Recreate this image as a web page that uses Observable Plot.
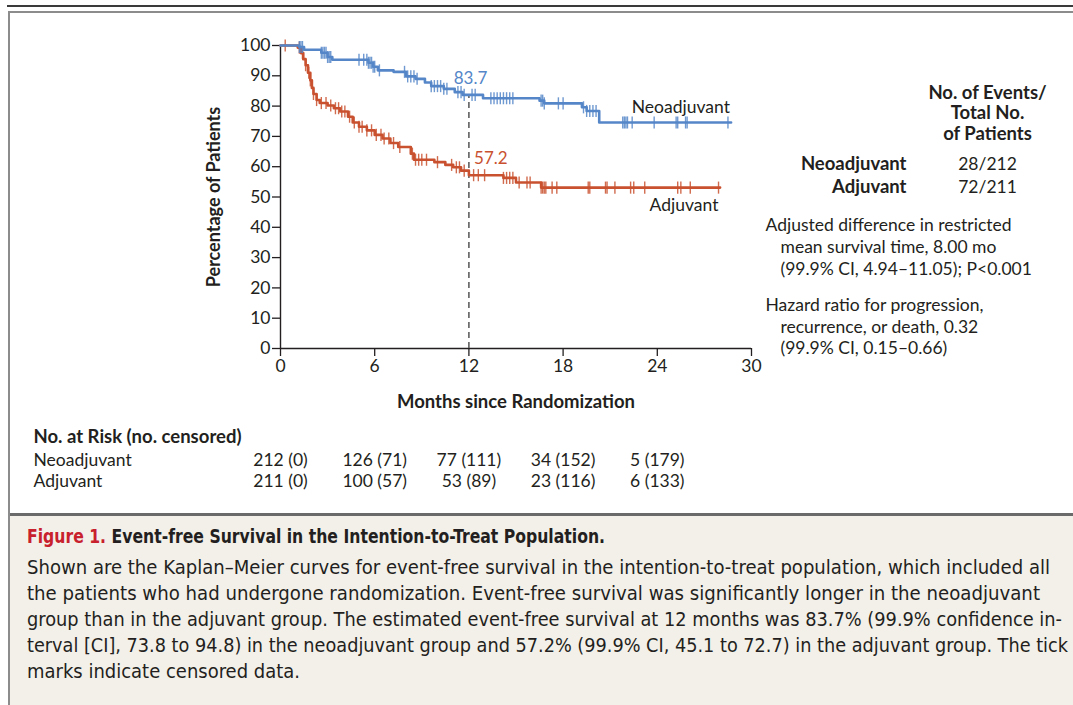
<!DOCTYPE html>
<html>
<head>
<meta charset="utf-8">
<script src="https://cdn.jsdelivr.net/npm/d3@7"></script>
<script src="https://cdn.jsdelivr.net/npm/@observablehq/plot@0.6"></script>
<style>
  html, body { margin: 0; padding: 0; }
  body { width: 1073px; height: 705px; position: relative; overflow: hidden; background: #fff; font-family: Lato, "Open Sans", sans-serif; color: #231f20; }
  #rule { position: absolute; left: 7px; right: 0; top: 5px; height: 2px; background: #3a3a3a; }
  #frame { position: absolute; left: 8px; right: -4px; top: 11px; bottom: -4px; border-top: 2px solid #8c8c8c; border-left: 2px solid #8c8c8c; }
  #capbg { position: absolute; left: 10px; right: 0; top: 513px; bottom: 0; background: #f3f0ea; border-top: 3px solid #6a6a6a; }
  #chart { position: absolute; left: 0; top: 0; }
  .cap { position: absolute; left: 27px; white-space: nowrap; line-height: 26px; font-family: "Liberation Sans Narrow", "DejaVu Sans Condensed", Lato, sans-serif; font-size: 19.5px; transform-origin: 0 50%; color: #231f20; }
  .cap.title { font-weight: bold; }
  .cap .fig { color: #c8202c; }
</style>
</head>
<body>
<div id="rule"></div>
<div id="frame"></div>
<div id="capbg"></div>
<div id="chart"></div>
<div class="cap title" id="capTitle" data-w="578" style="top:524px"><span class="fig">Figure 1.</span> Event-free Survival in the Intention-to-Treat Population.</div>
<div class="cap body" data-w="1023" style="top:555px">Shown are the Kaplan–Meier curves for event-free survival in the intention-to-treat population, which included all</div>
<div class="cap body" data-w="1013" style="top:581px">the patients who had undergone randomization. Event-free survival was significantly longer in the neoadjuvant</div>
<div class="cap body" data-w="1035" style="top:607px">group than in the adjuvant group. The estimated event-free survival at 12 months was 83.7% (99.9% confidence in-</div>
<div class="cap body" data-w="1041" style="top:633px">terval [CI], 73.8 to 94.8) in the neoadjuvant group and 57.2% (99.9% CI, 45.1 to 72.7) in the adjuvant group. The tick</div>
<div class="cap body" data-w="273" style="top:659px">marks indicate censored data.</div>
<script>
// ---------- data ----------
const monthTicks = [0, 6, 12, 18, 24, 30];
const pctTicks = [0, 10, 20, 30, 40, 50, 60, 70, 80, 90, 100];

// Neoadjuvant: event times (months) and survival (%) after each step
const neoTimes = [0, 1.2, 1.5, 2.6, 3.0, 3.3, 5.6, 5.9, 6.2, 7.2, 8.0, 8.6, 9.2, 9.6, 10.4, 11.1, 11.6, 12.9, 16.5, 16.8, 19.2, 19.5, 20.3];
const neoSurv  = [100, 99.5, 98.6, 97.6, 96.2, 95.3, 94.3, 93.0, 91.8, 91.3, 89.8, 89.0, 87.8, 86.6, 85.7, 84.6, 83.7, 82.6, 81.8, 80.9, 79.6, 78.4, 74.6];
const neoEnd = 28.7;
const neoCensored = [1.2, 1.3, 1.4, 2.6, 2.7, 2.8, 2.9, 3.0, 3.1, 3.2, 5.0, 5.3, 5.5, 5.6, 5.7, 5.8, 5.9, 6.0, 6.3, 7.9, 8.1, 8.3, 8.5, 8.7, 9.6, 9.8, 10.0, 10.2, 10.4, 10.6, 11.3, 11.5, 11.7, 12.2, 12.4, 13.4, 13.6, 13.8, 14.0, 14.2, 14.4, 14.6, 14.8, 16.6, 16.7, 16.8, 17.7, 18.0, 19.3, 19.5, 19.7, 19.9, 20.1, 21.8, 21.9, 22.0, 22.1, 22.4, 23.8, 25.2, 25.3, 25.8, 25.9, 28.5];

// Adjuvant
const adjTimes = [0, 1.1, 1.3, 1.45, 1.6, 1.75, 1.9, 2.0, 2.1, 2.3, 2.5, 3.0, 3.4, 3.8, 4.3, 4.6, 5.0, 5.5, 6.0, 6.5, 7.0, 7.5, 8.3, 8.5, 9.8, 10.5, 11.0, 11.5, 12.0, 14.2, 15.0, 16.6];
const adjSurv  = [100, 99.3, 97.5, 95.5, 93.5, 91.0, 88.5, 86.0, 84.0, 82.0, 81.0, 80.2, 79.3, 78.2, 76.5, 74.6, 73.2, 72.0, 70.5, 69.3, 67.8, 66.5, 64.3, 62.3, 61.5, 60.6, 59.8, 58.7, 57.2, 56.3, 54.8, 53.1];
const adjEnd = 28.0;
const adjCensored = [0.3, 1.2, 1.4, 1.6, 1.8, 1.9, 2.1, 2.3, 2.6, 2.9, 3.2, 3.5, 3.7, 3.9, 4.1, 4.4, 4.7, 5.0, 5.2, 5.5, 5.8, 6.1, 6.4, 6.6, 6.9, 7.2, 7.6, 8.4, 8.6, 8.8, 9.0, 9.3, 10.0, 10.9, 11.2, 11.4, 11.7, 12.3, 12.6, 13.0, 14.2, 14.4, 14.6, 14.8, 15.2, 15.7, 15.9, 16.6, 16.7, 16.8, 16.9, 17.3, 17.6, 19.6, 19.7, 20.7, 20.8, 21.3, 22.3, 22.5, 23.2, 25.3, 25.5, 26.1, 27.9];

const landmarkMonth = 12;
const landmarkNeo = 83.7;
const landmarkAdj = 57.2;

const valueLabels = [
  {x: 12.1, y: 89.2, text: "83.7", group: "neo"},
  {x: 13.4, y: 62.6, text: "57.2", group: "adj"}
];
const curveLabels = [
  {x: 25.5, y: 79.6, text: "Neoadjuvant"},
  {x: 25.7, y: 47.3, text: "Adjuvant"}
];

const atRiskMonths = [0, 6, 12, 18, 24];
const neoAtRisk = ["212 (0)", "126 (71)", "77 (111)", "34 (152)", "5 (179)"];
const adjAtRisk = ["211 (0)", "100 (57)", "53 (89)", "23 (116)", "6 (133)"];

const eventsHeader = ["No. of Events/", "Total No.", "of Patients"];
const groupNames = ["Neoadjuvant", "Adjuvant"];
const eventCounts = ["28/212", "72/211"];
const rmstLines = ["Adjusted difference in restricted", "mean survival time, 8.00 mo", "(99.9% CI, 4.94–11.05); P<0.001"];
const hrLines = ["Hazard ratio for progression,", "recurrence, or death, 0.32", "(99.9% CI, 0.15–0.66)"];

// ---------- build tables ----------
const blue = "#5586c8", red = "#c9512f", ink = "#231f20";
function curve(times, surv, end) {
  const rows = times.map((t, i) => ({t, s: surv[i]}));
  rows.push({t: end, s: surv[surv.length - 1]});
  return rows;
}
function stepAt(times, surv, t) {
  let v = surv[0];
  for (let i = 0; i < times.length; i++) if (times[i] <= t) v = surv[i];
  return v;
}
const neoCurve = curve(neoTimes, neoSurv, neoEnd);
const adjCurve = curve(adjTimes, adjSurv, adjEnd);
const neoCens = neoCensored.map(t => ({t, s: stepAt(neoTimes, neoSurv, t)}));
const adjCens = adjCensored.map(t => ({t, s: stepAt(adjTimes, adjSurv, t)}));

const vbar = { draw(ctx, size) { const r = Math.sqrt(size) * 0.62; ctx.moveTo(0, -r); ctx.lineTo(0, r); } };

const FS = 17.5, FB = 18.5;
const txt = {fill: ink, fontSize: FS, lineAnchor: "middle"};
const bold = {fill: ink, fontSize: FB, fontWeight: "bold", lineAnchor: "middle"};

const chart = Plot.plot({
  width: 1073, height: 505,
  marginLeft: 280, marginRight: 322, marginTop: 45, marginBottom: 157,
  x: {domain: [0, 30]},
  y: {domain: [0, 100]},
  style: {fontFamily: "Lato, 'Open Sans', sans-serif", fontSize: "17px", color: ink, background: "transparent"},
  marks: [
    Plot.axisX({ticks: monthTicks, tickSize: 8, tickPadding: 3, label: null, fontSize: FS, stroke: ink, strokeWidth: 1.3}),
    Plot.axisY({ticks: pctTicks, tickSize: 8, tickPadding: 2, label: null, fontSize: FS, stroke: ink, strokeWidth: 1.3}),
    Plot.ruleX([0], {stroke: ink, strokeWidth: 1.4}),
    Plot.ruleY([0], {stroke: ink, strokeWidth: 1.4}),
    Plot.ruleX([landmarkMonth], {y1: 0, y2: landmarkNeo, stroke: "#555", strokeWidth: 1.5, strokeDasharray: "6,4"}),
    Plot.line(adjCurve, {x: "t", y: "s", curve: "step-after", stroke: red, strokeWidth: 2.6}),
    Plot.dot(adjCens, {x: "t", y: "s", symbol: vbar, r: 5.5, stroke: red, strokeWidth: 1.4, fill: "none", strokeOpacity: 0.85}),
    Plot.line(neoCurve, {x: "t", y: "s", curve: "step-after", stroke: blue, strokeWidth: 2.6}),
    Plot.dot(neoCens, {x: "t", y: "s", symbol: vbar, r: 5.5, stroke: blue, strokeWidth: 1.4, fill: "none", strokeOpacity: 0.85}),
    Plot.text(valueLabels, {x: "x", y: "y", text: "text", fill: d => d.group === "neo" ? blue : red, fontSize: 17}),
    Plot.text(curveLabels, {x: "x", y: "y", text: "text", fill: ink, fontSize: FS}),
    // axis titles
    Plot.text(["Months since Randomization"], {frameAnchor: "bottom", dy: 54, textAnchor: "middle", ...bold}),
    Plot.text(["Percentage of Patients"], {frameAnchor: "left", dx: -66, rotate: -90, textAnchor: "middle", ...bold, fontSize: 18}),
    // at-risk table
    Plot.text(["No. at Risk (no. censored)"], {frameAnchor: "bottom-left", dx: -247, dy: 89, textAnchor: "start", ...bold}),
    Plot.text([groupNames[0]], {frameAnchor: "bottom-left", dx: -247, dy: 112, textAnchor: "start", ...txt}),
    Plot.text([groupNames[1]], {frameAnchor: "bottom-left", dx: -247, dy: 133, textAnchor: "start", ...txt}),
    Plot.text(atRiskMonths, {x: d => d, text: (d, i) => neoAtRisk[i], frameAnchor: "bottom", dy: 112, textAnchor: "middle", ...txt}),
    Plot.text(atRiskMonths, {x: d => d, text: (d, i) => adjAtRisk[i], frameAnchor: "bottom", dy: 133, textAnchor: "middle", ...txt}),
    // right-hand panel
    ...eventsHeader.map((s, i) => Plot.text([s], {frameAnchor: "top-right", dx: 236, dy: [48, 68, 89][i], textAnchor: "middle", ...bold})),
    ...groupNames.map((s, i) => Plot.text([s], {frameAnchor: "top-right", dx: 155, dy: [119, 142][i], textAnchor: "end", ...bold})),
    ...eventCounts.map((s, i) => Plot.text([s], {frameAnchor: "top-right", dx: 236, dy: [119, 142][i], textAnchor: "middle", ...txt})),
    ...rmstLines.map((s, i) => Plot.text([s], {frameAnchor: "top-right", dx: i === 0 ? 14 : 29, dy: [180, 202, 224][i], textAnchor: "start", ...txt})),
    ...hrLines.map((s, i) => Plot.text([s], {frameAnchor: "top-right", dx: i === 0 ? 14 : 29, dy: [260, 282, 303][i], textAnchor: "start", ...txt}))
  ]
});
document.getElementById("chart").appendChild(chart);

// fit each caption line to its width in the reference (condensed type)
document.querySelectorAll(".cap").forEach(el => {
  const w = el.getBoundingClientRect().width;
  el.style.transform = `scaleX(${(+el.dataset.w) / w})`;
});
</script>
</body>
</html>
